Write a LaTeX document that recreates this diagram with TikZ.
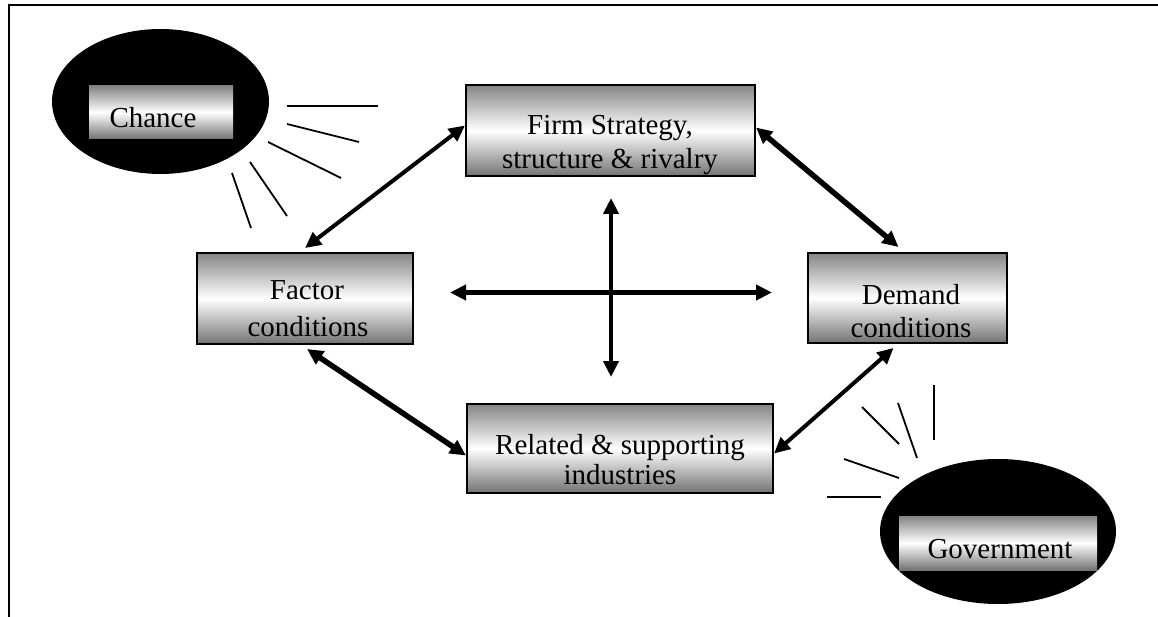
\documentclass[tikz,border=0pt]{standalone}
\usepackage{fontspec}
\setmainfont{Liberation Serif}
\usetikzlibrary{arrows.meta,shapes.geometric}
\begin{document}
\begin{tikzpicture}[x=1pt,y=-1pt,
  box/.style={draw=black, line width=2pt, top color=black!48, bottom color=black!55, middle color=white, inner sep=0pt},
  ibox/.style={top color=black!48, bottom color=black!55, middle color=white, inner sep=0pt},
  blob/.style={ellipse, fill=black, inner sep=0pt},
  lbl/.style={anchor=base, inner sep=0pt, font=\fontsize{29}{34}\selectfont},
  ray/.style={line width=1.8pt},
  dbl/.style={{Triangle[length=16pt,width=15pt]}-{Triangle[length=16pt,width=15pt]}},
]
\useasboundingbox (0,0) rectangle (1158,617);
% frame
\draw[line width=2pt] (9,617) -- (9,5.5) -- (1158,5.5);

% chance
\node[blob, minimum width=217pt, minimum height=145pt] (chanceE) at (160.5,101.5) {};
\node[ibox, minimum width=144pt, minimum height=53pt] (chanceB) at (161,112.5) {};
\node[lbl] (chanceT) at (153,128) {Chance};
\draw[ray] (287,106) -- (378,106);
\draw[ray] (287,124) -- (359,142);
\draw[ray] (268,142) -- (341,178);
\draw[ray] (250,162) -- (287,216);
\draw[ray] (232,173) -- (251,228);

% government
\node[blob, minimum width=236pt, minimum height=145pt] (govE) at (998,531.5) {};
\node[ibox, minimum width=198pt, minimum height=54pt] (govB) at (998,543) {};
\node[lbl] (govT) at (1000,558) {Government};
\draw[ray] (934,385) -- (934,440);
\draw[ray] (898,403) -- (917,458);
\draw[ray] (862,407) -- (899,444);
\draw[ray] (844,459) -- (899,478);
\draw[ray] (827,497) -- (881,497);

% boxes
\node[box, minimum width=289pt, minimum height=91pt] (firm) at (610.5,130.5) {};
\node[lbl] (firmA) at (610,135) {Firm Strategy,};
\node[lbl] (firmB) at (610,169) {structure \& rivalry};

\node[box, minimum width=216pt, minimum height=91pt] (factor) at (305,298.5) {};
\node[lbl] (factorA) at (307,300) {Factor};
\node[lbl] (factorB) at (308,336) {conditions};

\node[box, minimum width=199pt, minimum height=90pt] (demand) at (907.5,298) {};
\node[lbl] (demandA) at (911,305) {Demand};
\node[lbl] (demandB) at (911,337) {conditions};

\node[box, minimum width=306pt, minimum height=89pt] (related) at (620,448.5) {};
\node[lbl] (relatedA) at (620,454) {Related \& supporting};
\node[lbl] (relatedB) at (620,484) {industries};

% connectors
\draw[dbl, line width=4pt] ([yshift=4pt]factor.north) -- ([yshift=5pt]firm.west);
\draw[dbl, line width=5.5pt] ([yshift=3pt]firm.east) -- ([xshift=-9pt,yshift=5pt]demand.north);
\draw[dbl, line width=5.5pt] ([xshift=2pt,yshift=-4pt]factor.south) -- ([yshift=-7pt]related.west);
\draw[dbl, line width=4pt] ([yshift=-5pt]related.east) -- ([xshift=-14pt,yshift=-4pt]demand.south);

\coordinate (hl) at (450,292.5);
\coordinate (hr) at (772,292.5);
\coordinate (vt) at (611,198);
\coordinate (vb) at (611,377);
\draw[dbl, line width=5.5pt] (hl) -- (hr);
\draw[dbl, line width=4pt] (vt) -- (vb);
\end{tikzpicture}
\end{document}
